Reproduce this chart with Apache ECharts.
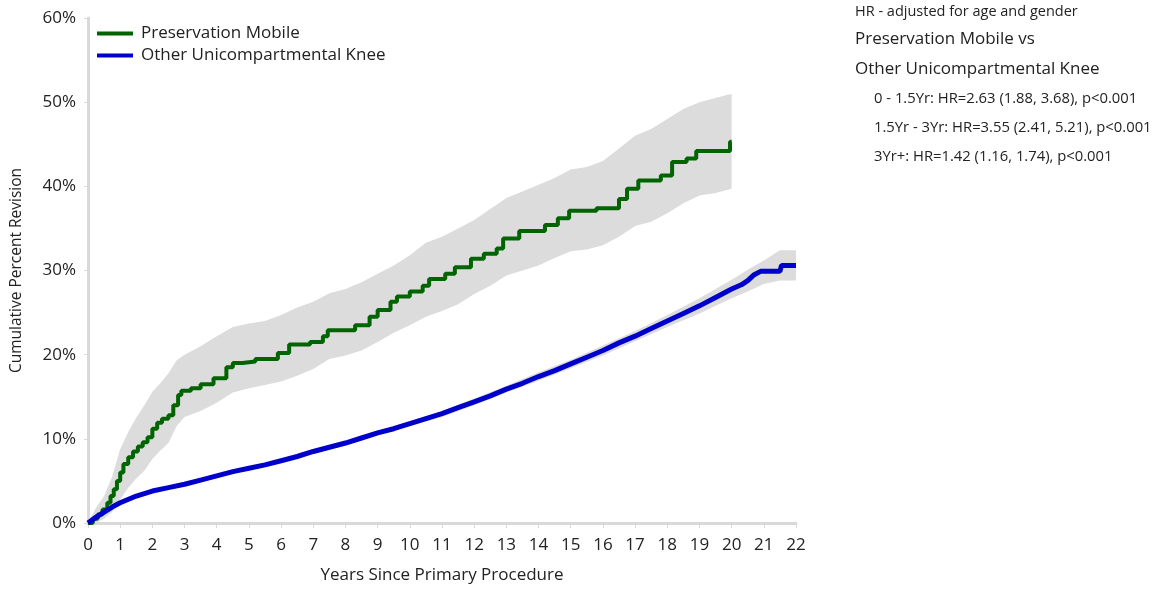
<!DOCTYPE html>
<html>
<head>
<meta charset="utf-8">
<script src="https://cdn.jsdelivr.net/npm/echarts@6/dist/echarts.min.js"></script>
<style>html,body{margin:0;padding:0;background:#fff;}#c{width:1156px;height:589px;}</style>
</head>
<body>
<div id="c"></div>
<script>
var FONT = '"Open Sans", "Noto Sans", sans-serif';
var xTicks = [0,1,2,3,4,5,6,7,8,9,10,11,12,13,14,15,16,17,18,19,20,21,22];
var seriesNames = ['Preservation Mobile', 'Other Unicompartmental Knee'];

// Preservation Mobile: [years, cumulative % revision]
var pmLine = [[0,0],[0.15,0.5],[0.3,1.0],[0.45,1.6],[0.6,2.4],[0.7,3.2],[0.8,4.0],[0.9,5.0],[1.0,6.0],[1.1,7.0],[1.25,7.8],[1.4,8.5],[1.55,9.1],[1.7,9.6],[1.85,10.2],[2.0,11.2],[2.15,11.9],[2.3,12.4],[2.5,12.8],[2.65,14.0],[2.8,15.2],[2.9,15.7],[3.2,16.0],[3.5,16.5],[3.9,17.2],[4.3,18.5],[4.5,19.0],[4.8,19.2],[5.2,19.5],[5.9,20.2],[6.25,21.2],[6.9,21.5],[7.3,22.2],[7.45,22.9],[8.3,23.5],[8.75,24.5],[9.0,25.3],[9.4,26.3],[9.6,26.9],[10.0,27.5],[10.4,28.2],[10.6,29.0],[11.1,29.6],[11.4,30.4],[11.9,31.4],[12.3,32.0],[12.7,32.6],[12.9,33.8],[13.4,34.7],[14.2,35.4],[14.6,36.2],[14.95,37.1],[15.8,37.4],[16.5,38.5],[16.75,39.7],[17.1,40.7],[17.8,41.3],[18.15,42.9],[18.6,43.3],[18.9,44.2],[19.95,45.3],[20.0,45.3]];
// Preservation Mobile CI: [years, lower, upper]
var pmBand = [[0,0,0],[0.25,0,1.8],[0.5,0.5,3.2],[0.75,1.3,5.5],[1.0,2.8,8.8],[1.25,4.2,10.8],[1.5,5.3,12.5],[1.75,6.2,14.0],[2.0,7.6,15.6],[2.25,8.6,16.6],[2.5,9.5,17.8],[2.75,11.5,19.3],[3.0,12.6,20.0],[3.5,13.3,21.0],[4.0,14.3,22.2],[4.5,15.5,23.3],[5.0,16.0,23.7],[5.5,16.4,24.0],[6.0,16.8,24.7],[6.5,17.5,25.6],[7.0,18.3,26.3],[7.5,19.5,27.3],[8.0,19.9,27.8],[8.5,20.5,28.6],[9.0,21.5,29.6],[9.5,22.6,30.6],[10.0,23.5,31.8],[10.5,24.5,33.3],[11.0,25.2,34.0],[11.5,26.0,35.0],[12.0,27.2,36.0],[12.5,28.2,37.3],[13.0,29.4,38.6],[13.5,30.0,39.4],[14.0,30.6,40.2],[14.5,31.5,41.0],[15.0,32.3,42.0],[15.5,32.5,42.3],[16.0,33.0,43.0],[16.5,34.0,44.5],[17.0,35.3,46.0],[17.5,35.8,46.8],[18.0,36.8,48.0],[18.5,38.0,49.2],[19.0,38.9,50.0],[19.5,39.2,50.5],[20.0,39.7,51.0]];

// Other Unicompartmental Knee
var ouLine = [[0,0],[0.25,0.7],[0.5,1.3],[0.75,1.9],[1,2.4],[1.5,3.2],[2,3.8],[2.5,4.2],[3,4.6],[3.5,5.1],[4,5.6],[4.5,6.1],[5,6.5],[5.5,6.9],[6,7.4],[6.5,7.9],[7,8.5],[7.5,9.0],[8,9.5],[8.5,10.1],[9,10.7],[9.5,11.2],[10,11.8],[10.5,12.4],[11,13.0],[11.5,13.7],[12,14.4],[12.5,15.1],[13,15.9],[13.5,16.6],[14,17.4],[14.5,18.1],[15,18.9],[15.5,19.7],[16,20.5],[16.5,21.4],[17,22.2],[17.5,23.1],[18,24.0],[18.5,24.9],[19,25.8],[19.5,26.8],[20,27.8],[20.3,28.3],[20.5,28.8],[20.7,29.5],[20.9,29.9],[21.5,29.9],[21.55,30.6],[22,30.6]];
var ouBand = [[0,0,0],[1,2.2,2.6],[2,3.6,4.0],[3,4.4,4.8],[4,5.4,5.8],[5,6.3,6.7],[6,7.2,7.6],[7,8.2,8.8],[8,9.2,9.8],[9,10.4,11.0],[10,11.5,12.1],[11,12.6,13.3],[12,14.0,14.8],[13,15.5,16.3],[14,16.9,17.9],[15,18.4,19.4],[16,19.9,21.1],[17,21.6,22.8],[18,23.3,24.7],[19,24.9,26.7],[20,26.7,28.9],[20.5,27.5,30.1],[21,28.4,31.2],[21.5,28.8,32.4],[22,28.8,32.4]];

var hrLines = ['0 - 1.5Yr: HR=2.63 (1.88, 3.68), p<0.001', '1.5Yr - 3Yr: HR=3.55 (2.41, 5.21), p<0.001', '3Yr+: HR=1.42 (1.16, 1.74), p<0.001'];

function bandSeries(name, rows, step) {
  return {
    name: name, type: 'custom', silent: true, z: 1, clip: true,
    data: rows,
    encode: { x: 0, y: [1, 2] },
    renderItem: function (params, api) {
      if (params.dataIndex !== 0) return null;
      var top = [], bot = [];
      for (var i = 0; i < rows.length; i++) {
        top.push(api.coord([rows[i][0], rows[i][2]]));
        bot.push(api.coord([rows[i][0], rows[i][1]]));
        if (step && i < rows.length - 1) {
          top.push(api.coord([rows[i + 1][0], rows[i][2]]));
          bot.push(api.coord([rows[i + 1][0], rows[i][1]]));
        }
      }
      return { type: 'polygon', shape: { points: top.concat(bot.reverse()) }, style: { fill: '#dcdcdc' } };
    }
  };
}

var chart = echarts.init(document.getElementById('c'));
var graphics = [
  { type: 'text', left: 855, top: 4, style: { text: 'HR - adjusted for age and gender', font: '14.5px ' + FONT, fill: '#222' } },
  { type: 'text', left: 855, top: 31, style: { text: 'Preservation Mobile vs', font: '17px ' + FONT, fill: '#222' } },
  { type: 'text', left: 855, top: 61, style: { text: 'Other Unicompartmental Knee', font: '17px ' + FONT, fill: '#222' } }
];
hrLines.forEach(function (t, i) {
  graphics.push({ type: 'text', left: 874, top: 91 + i * 29, style: { text: t, font: '14.8px ' + FONT, fill: '#222' } });
});

chart.setOption({
  animation: false,
  textStyle: { fontFamily: FONT },
  grid: { left: 88, right: 360, top: 18, bottom: 63 },
  legend: {
    data: seriesNames, orient: 'vertical', left: 92, top: 20, itemGap: 5,
    itemWidth: 36, itemHeight: 18, icon: 'path://M0,7 L36,7 L36,11 L0,11 Z',
    textStyle: { fontSize: 17, color: '#222', fontFamily: FONT, padding: [0, 0, 0, 3] }
  },
  xAxis: {
    type: 'value', min: 0, max: 22, interval: 1,
    name: 'Years Since Primary Procedure', nameLocation: 'middle', nameGap: 44,
    nameTextStyle: { fontSize: 17, color: '#222' },
    axisLine: { show: true, lineStyle: { color: '#d9d9d9', width: 3 } },
    axisTick: { show: true, length: 5, lineStyle: { color: '#d9d9d9', width: 1 } },
    axisLabel: { fontSize: 17, color: '#222', margin: 14, formatter: function (v) { return xTicks.indexOf(v) >= 0 ? String(v) : ''; } },
    splitLine: { show: false }
  },
  yAxis: {
    type: 'value', min: 0, max: 60, interval: 10,
    name: 'Cumulative Percent Revision', nameLocation: 'middle', nameGap: 63,
    nameTextStyle: { fontSize: 15.5, color: '#222' },
    axisLine: { show: true, lineStyle: { color: '#d9d9d9', width: 3 } },
    axisTick: { show: true, length: 4, lineStyle: { color: '#d9d9d9' } },
    axisLabel: { fontSize: 17, color: '#222', margin: 12, formatter: '{value}%' },
    splitLine: { show: false }
  },
  graphic: graphics,
  series: [
    bandSeries('pmBand', pmBand, false),
    bandSeries('ouBand', ouBand, false),
    { name: seriesNames[0], type: 'line', step: 'end', data: pmLine, showSymbol: false, z: 3,
      color: '#006400', lineStyle: { color: '#006400', width: 4 } },
    { name: seriesNames[1], type: 'line', data: ouLine, showSymbol: false, z: 4,
      color: '#0000cd', lineStyle: { color: '#0000cd', width: 5 } }
  ]
});
</script>
</body>
</html>
